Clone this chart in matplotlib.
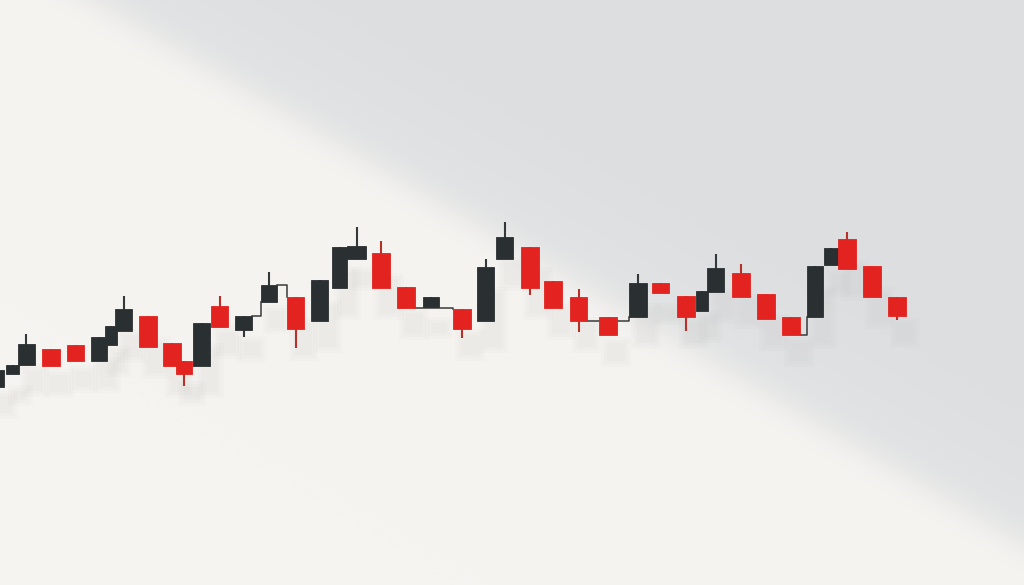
import numpy as np
import matplotlib
matplotlib.use("Agg")
import matplotlib.pyplot as plt
from matplotlib.patches import Rectangle

# ---- data (x position, open, high, low, close) ----
xpos = [-5, 12.5, 26, 51, 75.5, 99, 111, 123.5, 148, 172, 184, 201.5, 219.5, 243.5,
        269, 295.5, 319.5, 339.5, 356.5, 381, 406, 431, 462, 485.5, 504.5, 530, 553,
        578.5, 608, 638, 660.5, 686, 702, 715.5, 741, 766, 791, 815, 831, 847, 872, 897]
opens = [198, 211, 220, 236, 240, 224, 240, 254, 269, 242, 224, 219, 279, 255,
         283, 288, 264, 297, 326, 332, 298, 278, 276, 264, 326, 338, 304,
         288, 268, 268, 302, 289, 274, 293, 312, 291, 268, 268, 320, 346, 319, 288]
closes = [215, 220, 241, 219, 224, 248, 259, 276, 238, 219, 211, 262, 258, 269,
          300, 256, 305, 338, 339, 297, 277, 288, 256, 318, 348, 297, 277,
          264, 250, 302, 292, 268, 294, 317, 288, 266, 250, 319, 337, 316, 288, 269]
highs = [215, 220, 251, 236, 240, 248, 259, 289, 269, 242, 224, 262, 289, 269,
         313, 288, 305, 338, 358, 344, 298, 288, 276, 326, 363, 338, 304,
         296, 268, 311, 302, 289, 294, 331, 321, 291, 268, 319, 337, 353, 319, 288]
lows = [198, 211, 220, 219, 224, 224, 240, 254, 238, 219, 199, 219, 258, 248,
        283, 237, 264, 297, 326, 297, 277, 278, 247, 264, 326, 290, 277,
        253, 250, 268, 292, 254, 274, 293, 288, 266, 250, 268, 320, 316, 288, 265]
widths = [17, 13, 17, 18, 17, 16, 12, 17, 18, 18, 16, 17, 17, 17,
          16, 17, 17, 15, 19, 18, 18, 16, 18, 17, 17, 18, 18,
          17, 18, 18, 17, 18, 12, 17, 18, 18, 18, 16, 14, 18, 18, 18]
connectors = [(13, 14), (14, 15), (20, 22), (27, 29), (36, 37)]

W, H = 1024, 585
fig = plt.figure(figsize=(10.24, 5.85), dpi=100)
ax = fig.add_axes([0, 0, 1, 1])
ax.set_xlim(0, W)
ax.set_ylim(0, H)
ax.axis("off")

# ---- background: light floor with diagonal grey shade ----
yy, xx = np.mgrid[0:H, 0:W]
x0, y0, x1, y1 = 90.0, 0.0, 900.0, 473.0
nx, ny = (y1 - y0), -(x1 - x0)
nrm = np.hypot(nx, ny)
d = ((xx - x0) * nx + (yy - y0) * ny) / nrm   # >0 upper-right (grey)
t = 1 / (1 + np.exp(-d / 9.0))
light = np.array([246, 244, 241]) / 255
grey = np.array([220, 222, 224]) / 255
glow = np.clip(1 - d / 140, 0, 1)[..., None] * 0.22
img = light * (1 - t[..., None]) + (grey * (1 - glow) + light * glow) * t[..., None]
ax.imshow(img, extent=(0, W, 0, H), origin="upper", zorder=0, aspect="auto")

black = "#2a2f31"
red = "#e3231f"

# soft shadows
for x, o, c, w in zip(xpos, opens, closes, widths):
    lo, hi = min(o, c), max(o, c)
    for k, a in enumerate([0.025, 0.025, 0.025]):
        ax.add_patch(Rectangle((x - w / 2 + 8 - 3 * k, lo - 26 - 3 * k), w + 6 * k, hi - lo + 6 * k,
                               facecolor="#8a8a8a", alpha=a, lw=0, zorder=1))

# connectors
for i, j in connectors:
    xa = xpos[i] + widths[i] / 2
    xb = xpos[j] - widths[j] / 2
    ax.plot([xa, xb, xb], [closes[i], closes[i], opens[j]], color="#3a3a3a", lw=1.1, zorder=2)

# candles
for x, o, h, l, c, w in zip(xpos, opens, highs, lows, closes, widths):
    col = black if c >= o else red
    wick = "#33383a" if c >= o else "#b8302a"
    ax.plot([x, x], [l, h], color=wick, lw=1.5, zorder=3, solid_capstyle="butt")
    lo, hi = min(o, c), max(o, c)
    ax.add_patch(Rectangle((x - w / 2, lo), w, hi - lo, facecolor=col, edgecolor=col,
                           lw=0.6, zorder=4))

fig.savefig("out.png", dpi=100)
